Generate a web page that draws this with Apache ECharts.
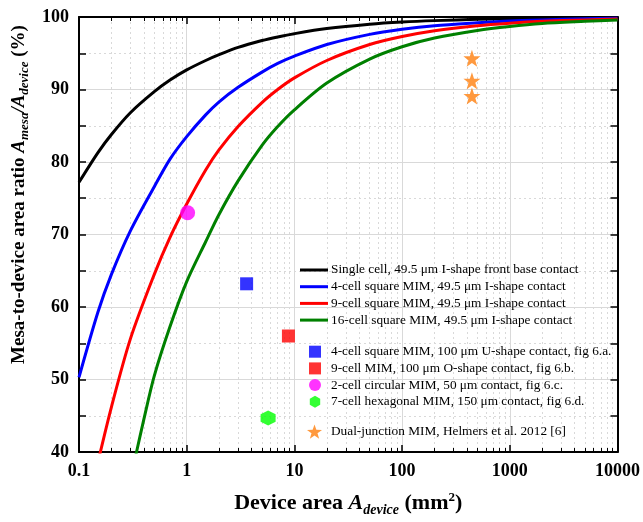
<!DOCTYPE html>
<html>
<head>
<meta charset="utf-8">
<script src="https://cdn.jsdelivr.net/npm/echarts@6/dist/echarts.min.js"></script>
<style>
  html, body { margin: 0; padding: 0; background: #fff; }
  #chart { width: 643px; height: 522px; }
</style>
</head>
<body>
<div id="chart"></div>
<script>
// curves as [device area mm², ratio %]
const singleCell = [[0.1, 77.2], [0.15, 81.3], [0.2, 83.8], [0.3, 86.8], [0.5, 89.7], [0.7, 91.3], [1, 92.7], [1.5, 94.0], [2, 94.8], [3, 95.8], [5, 96.75], [7, 97.25], [10, 97.7], [20, 98.4], [50, 99.0], [100, 99.3], [200, 99.5], [500, 99.68], [1000, 99.77], [2000, 99.84], [5000, 99.9], [10000, 99.93]];
const cell4 = [[0.1, 50.3], [0.15, 59.3], [0.2, 64.5], [0.3, 70.5], [0.5, 76.6], [0.7, 80.4], [1, 83.5], [1.5, 86.5], [2, 88.3], [3, 90.3], [5, 92.4], [7, 93.6], [10, 94.6], [20, 96.2], [50, 97.6], [100, 98.3], [200, 98.8], [500, 99.2], [1000, 99.45], [2000, 99.6], [5000, 99.75], [10000, 99.83]];
const cell9 = [[0.15, 38.6], [0.2, 46.2], [0.3, 55.6], [0.5, 64.5], [0.7, 69.6], [1, 74.2], [1.5, 78.9], [2, 81.7], [3, 84.9], [5, 88.2], [7, 90.0], [10, 91.6], [20, 94.0], [50, 96.2], [100, 97.3], [200, 98.1], [500, 98.8], [1000, 99.15], [2000, 99.4], [5000, 99.6], [10000, 99.73]];
const cell16 = [[0.3, 36.3], [0.342, 40], [0.4, 44.5], [0.5, 50.5], [0.7, 57.3], [1, 63.5], [1.5, 69.0], [2, 72.8], [3, 77.4], [5, 82.3], [7, 84.9], [10, 87.2], [20, 90.9], [50, 94.2], [100, 95.9], [200, 97.1], [500, 98.15], [1000, 98.7], [2000, 99.1], [5000, 99.4], [10000, 99.6]];

// measured devices
const fig6a = [[3.6, 63.2]];
const fig6b = [[8.8, 56.0]];
const fig6c = [[1.02, 73.0]];
const fig6d = [[5.7, 44.7]];
const helmers = [[445, 94.3], [445, 91.2], [445, 89.1]];

const lineNames = [
  "Single cell, 49.5 μm I-shape front base contact",
  "4-cell square MIM, 49.5 μm I-shape contact",
  "9-cell square MIM, 49.5 μm I-shape contact",
  "16-cell square MIM, 49.5 μm I-shape contact"
];
const markerNames = [
  "4-cell square MIM, 100 μm U-shape contact, fig 6.a.",
  "9-cell MIM, 100 μm O-shape contact, fig 6.b.",
  "2-cell circular MIM, 50 μm contact, fig 6.c.",
  "7-cell hexagonal MIM, 150 μm contact, fig 6.d."
];
const starName = "Dual-junction MIM, Helmers et al. 2012 [6]";

const serif = "Liberation Serif";
const hexagon = "path://M0,-10L8.66,-5L8.66,5L0,10L-8.66,5L-8.66,-5Z";
const star = "path://M0,-10L2.35,-3.24L9.51,-3.09L3.8,1.24L5.88,8.09L0,4L-5.88,8.09L-3.8,1.24L-9.51,-3.09L-2.35,-3.24Z";

const chart = echarts.init(document.getElementById("chart"));

const gridLine = { show: true, lineStyle: { color: "#d9d9d9", width: 1 } };
const minorGrid = { show: true, lineStyle: { color: "#d9d9d9", width: 1, type: [2, 3] } };
const frame = { show: true, onZero: false, lineStyle: { color: "#000", width: 2 } };
const majorTick = { show: true, inside: true, length: 7, lineStyle: { color: "#000", width: 1.5 } };
const legendText = { fontFamily: serif, fontSize: 13.3, lineHeight: 13, color: "#000" };

function curve(name, data, color) {
  return {
    name, type: "line", data, smooth: 0.3, showSymbol: false, symbol: "none",
    lineStyle: { color, width: 3 }, itemStyle: { color }, z: 3
  };
}
function marker(name, data, color, symbol, size) {
  return { name, type: "scatter", data, symbol, symbolSize: size, itemStyle: { color }, z: 4 };
}

chart.setOption({
  animation: false,
  grid: { left: 79, right: 24, top: 17, bottom: 69 },
  xAxis: [
    {
      type: "log", logBase: 10, min: 0.1, max: 10000,
      name: "{t|Device area }{i|A}{s|device}{t| (mm}{p|2}{t|)}",
      nameLocation: "middle", nameGap: 38,
      nameTextStyle: {
        rich: {
          t: { fontFamily: serif, fontWeight: "bold", fontSize: 22, color: "#000" },
          i: { fontFamily: serif, fontWeight: "bold", fontStyle: "italic", fontSize: 22, color: "#000" },
          s: { fontFamily: serif, fontWeight: "bold", fontStyle: "italic", fontSize: 14, color: "#000", padding: [13, 0, 0, 0] },
          p: { fontFamily: serif, fontWeight: "bold", fontSize: 13, color: "#000", padding: [0, 0, 12, 0] }
        }
      },
      axisLine: frame,
      axisTick: majorTick,
      minorTick: { show: true, splitNumber: 9, length: 4, lineStyle: { color: "#000", width: 1 } },
      splitLine: gridLine,
      minorSplitLine: minorGrid,
      axisLabel: {
        fontFamily: serif, fontWeight: "bold", fontSize: 18, color: "#000", margin: 10,
        formatter: (v) => String(+Number(v).toPrecision(6))
      }
    },
    {
      type: "log", logBase: 10, min: 0.1, max: 10000, position: "top",
      axisLine: frame,
      axisTick: majorTick,
      minorTick: { show: true, splitNumber: 9, length: 4, lineStyle: { color: "#000", width: 1 } },
      axisLabel: { show: false }, splitLine: { show: false }
    }
  ],
  yAxis: [
    {
      type: "value", min: 40, max: 100, interval: 10,
      name: "{t|Mesa-to-device area ratio }{i|A}{s|mesa}{i|/A}{s|device}{t| (%)}",
      nameLocation: "middle", nameGap: 47,
      nameTextStyle: {
        padding: [0, 0, 0, 80],
        rich: {
          t: { fontFamily: serif, fontWeight: "bold", fontSize: 19, color: "#000" },
          i: { fontFamily: serif, fontWeight: "bold", fontStyle: "italic", fontSize: 19, color: "#000" },
          s: { fontFamily: serif, fontWeight: "bold", fontStyle: "italic", fontSize: 13, color: "#000", padding: [11, 0, 0, 0] }
        }
      },
      axisLine: frame,
      axisTick: majorTick,
      minorTick: { show: true, splitNumber: 2, length: 7, lineStyle: { color: "#000", width: 1.5 } },
      splitLine: gridLine,
      minorSplitLine: minorGrid,
      axisLabel: { fontFamily: serif, fontWeight: "bold", fontSize: 18, color: "#000", margin: 10 }
    },
    {
      type: "value", min: 40, max: 100, interval: 10, position: "right",
      axisLine: frame,
      axisTick: majorTick,
      minorTick: { show: true, splitNumber: 2, length: 7, lineStyle: { color: "#000", width: 1.5 } },
      axisLabel: { show: false }, splitLine: { show: false }
    }
  ],
  legend: [
    {
      data: lineNames, orient: "vertical", left: 300, top: 263.5, padding: 0,
      icon: "rect", itemWidth: 28, itemHeight: 3, itemGap: 3.7,
      textStyle: { ...legendText, padding: [0, 0, 0, -2] }
    },
    {
      data: markerNames, orient: "vertical", left: 309, top: 345.2, padding: 0,
      itemWidth: 12, itemHeight: 12, itemGap: 3.7,
      textStyle: { ...legendText, padding: [0, 0, 0, 5] }
    },
    {
      data: [starName], orient: "vertical", left: 307, top: 424.5, padding: 0,
      itemWidth: 15, itemHeight: 15,
      textStyle: { ...legendText, padding: [0, 0, 0, 4] }
    }
  ],
  series: [
    curve(lineNames[0], singleCell, "#000000"),
    curve(lineNames[1], cell4, "#0000ff"),
    curve(lineNames[2], cell9, "#ff0000"),
    curve(lineNames[3], cell16, "#008000"),
    marker(markerNames[0], fig6a, "#0000ff", "rect", 13),
    marker(markerNames[1], fig6b, "#ff0000", "rect", 13),
    marker(markerNames[2], fig6c, "#ff00ff", "circle", 15),
    marker(markerNames[3], fig6d, "#00ff00", hexagon, 15),
    marker(starName, helmers, "#ff7f0e", star, 17)
  ]
});
</script>
</body>
</html>
